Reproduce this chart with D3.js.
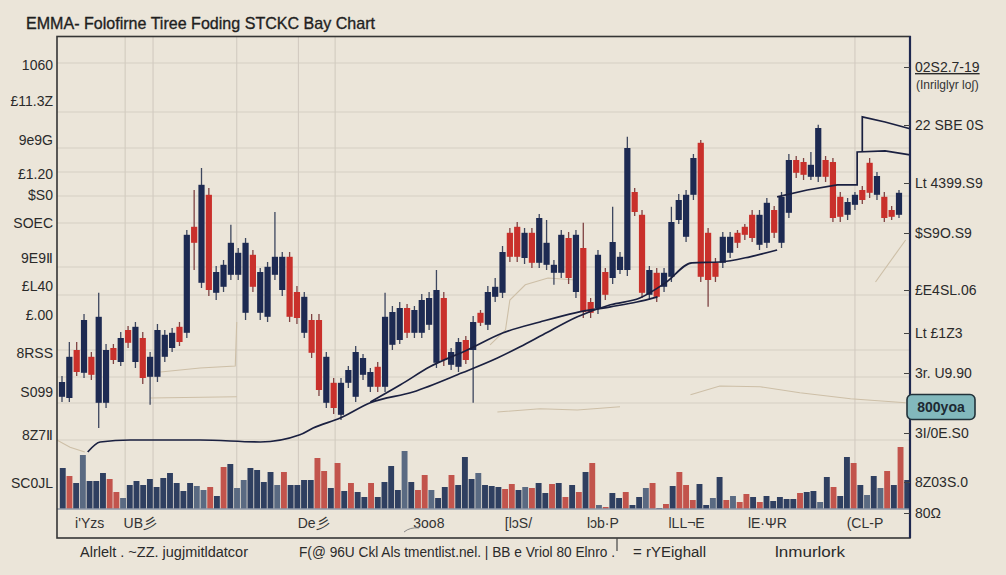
<!DOCTYPE html>
<html><head><meta charset="utf-8">
<script src="https://cdn.jsdelivr.net/npm/d3@7"></script>
<style>
html,body{margin:0;padding:0;background:#ece6db;}
svg{display:block;font-family:"Liberation Sans",Arial,sans-serif;}
</style></head><body>
<svg id="chart" width="1006" height="575"></svg>
<script>
// ---------- DATA ----------
const opens  = [10.8,10.5,22.5,16.8,20.8,9.3,9.3,23,19.5,27.5,19.5,25.5,15.8,15.8,20.8,23,28.3,26.8,53.3,39.3,61.3,36.8,38.3,41.3,41.3,31.8,46.3,31.8,30.8,41.3,37.5,45.8,37,26.8,30,30,9.3,14.3,6.3,14.3,10.8,16.3,13.3,18.3,13.3,23.8,25,33,26.8,26.8,28.8,19.3,35.5,18.8,18.3,25,22.5,31.8,28.8,35.8,36.8,51.8,53.3,45.5,51.8,44.3,43.8,41.8,41.8,50.5,37,48,34.5,33,42,40.5,42.5,42.5,62,56.3,36.3,41.8,38.3,40.8,55,50.8,61.3,74.3,51.8,44.3,44.3,46.8,51.8,53.3,56.3,48.8,49.3,57.5,49.3,56.8,70,69.5,65.8,65.8,70,69.5,60.8,56.3,58.8,62.5,69.3,61.3,60.8,57.5,56.3];
const highs  = [16,24.5,24.5,31.5,22,36.8,24,24,27,28.5,29.5,27,22,29,27.5,28,29.5,52.5,62.5,68,63,43.5,45,53.8,48,50.5,47.5,43,44.5,57,47,47,38.5,37,31.5,31.5,22,15.5,15.5,18.5,23.5,21.5,18,19.5,36.8,33.5,34.5,34,33.5,36.5,37,42.5,37,23,25.5,26,31,32.5,38.5,40.5,48.5,53,54.5,53,53,56.5,55,45,52.5,52,52.5,54.3,35.5,47.5,43,58.3,47,75.8,63,57.5,43.5,43,43,58.3,61.5,62.5,71.5,75,53,45.5,52,52,52.5,54,57.5,57.5,60.5,58.5,62,71.5,71,70.5,72,78.8,71,70.5,62,60.5,62,63.5,70.5,67,62,58.5,62.5];
const lows   = [9.5,9.5,16,15.5,15,3,8,19,18.5,23,18,14,8.8,14.5,19.5,22,23.5,25.5,42.5,38,36,35,37,40,40,30,37,30,29.5,40,36,29.5,29,25.5,20.5,11,8,6.5,5,13,9.5,15,12,12,12,22.5,24,25.5,25.5,25.5,27.5,18,18.5,17.5,17,19,9.3,28.5,27.5,34.5,35.5,44.5,44.5,44,43,43,42.5,38.8,40.5,39,35.5,30.5,30.5,31.5,35,39,41.5,41,56,35.5,35,34.5,37,39.5,54,49.5,60,39.5,33.3,39.5,43,45.5,48,50,49.5,47.5,48,50.5,48,55.5,65.5,65,65,64.5,64.5,54.5,54.5,55,57.5,59,60.5,60,54.5,55,55.5];
const closes = [14.5,20.8,17,30,16.3,30.8,22.5,20,25.5,24.3,28.3,15.5,20.8,27.5,26.3,26.8,24.5,51.3,49.3,63.8,37.5,42,43.8,49.3,46.8,49.3,38.3,42,43.3,45.8,45.8,30.8,30.5,35.8,21.8,12.5,20.8,8,14.3,17.5,22,20.5,17,13.3,30.8,32,33,26.8,32.5,35,35.5,37.5,20,22,24.5,20,29.5,29.3,37,38.3,47,45.8,45.8,51.8,44.3,55.5,49.3,43.8,51.3,40.5,51.3,32,31.8,46.3,36.3,49.5,45.8,73,57,36.8,42.5,35.8,41.8,54.5,60,61.3,70.5,40.8,40,40.8,50.8,50.8,49.3,51.3,50.5,56.3,59.3,51.8,60.8,70,66.8,66.3,68.8,78,65.8,55.5,55.8,59.5,61.3,60,61.8,66,55.5,55.8,61.8];

const volumes = [
  41,33,26,54,28,28,36,30,17,11,
  24,28,24,30,22,31,36,26,18,26,
  23,19,22,13,42,45,21,29,41,39,
  27,37,24,37,24,24,29,29,51,38,
  21,46,18,26,17,12,26,12,27,43,
  19,58,27,19,34,19,11,22,34,24,
  52,30,36,24,23,22,20,25,19,22,
  21,26,16,25,26,12,24,17,37,46,
  4,2,16,11,17,4,12,21,26,1,
  5,23,37,24,9,25,4,11,32,9,
  13,7,15,12,7,13,8,12,10,10,
  16,17,18,7,32,22,13,52,46,24,
  14,33,21,38,24,62,29];
const volumeSide = [
  "u","d","u","f","u","u","u","d","d","f",
  "u","u","u","u","u","u","u","u","u","u",
  "f","f","d","u","d","u","f","f","u","u",
  "u","u","f","d","u","u","u","u","d","d",
  "u","d","u","d","u","u","d","u","u","u",
  "u","f","u","d","d","f","u","u","d","u",
  "u","u","f","u","u","u","d","d","u","f",
  "d","u","u","d","u","d","u","d","u","d",
  "f","d","u","u","d","u","u","f","d","u",
  "d","u","d","d","d","u","u","f","u","d",
  "f","d","d","u","d","u","u","u","u","u",
  "d","u","u","f","u","d","u","u","d","u",
  "f","u","f","d","u","d","u"];

// moving-average style lines: [session index, price]
const ma1 = [[3.5,-3],[5.2,-0.5],[9.3,0],[18.8,0],[27,-0.5],[32.4,1.3],[34.2,3],[37.9,5.5],[42,9.3],[47.8,12],[54.5,16.8],[59.3,20.5],[62.4,23.3],[65.5,26.3],[70.2,30.8],[74.7,33.8],[78.7,35.5],[82.2,39.3],[85.8,44.3],[89.6,44.5],[93.7,45.8],[97.4,47.5]];
const ma2 = [[42,9.5],[46.1,13.8],[50.1,18.3],[55.2,22.5],[60.1,26.8],[65.1,29.5],[69.9,31.8],[74.7,33.3],[78.3,34.5],[81.1,35.8]];
const ma3 = [[97.4,60.8],[101.5,62.5],[105.6,63.8],[108.3,63.8],[108.3,72],[112.1,72.3],[115.5,71.3]];
const ma4 = [[109,72],[109,80.8],[112.1,79.5],[115.5,77.8]];
const faint = [
  [[13.4,17],[18.8,18],[23.6,18.5],[23.8,29.5]],
  [[12,10.5],[23.8,10.8]],
  [[58.3,23.8],[60.4,27.5],[61,35],[63.1,38.8],[66.2,40.5],[69.9,40]],
  [[85.6,11.3],[89.6,13.5],[95.1,13.3],[100.5,11.8],[107.4,10.3],[114.9,9.3]],
  [[59.3,7],[65.1,7.8],[70.2,7.5],[76,8.3]],
  [[110.8,39.5],[114.9,50]],
  [[-0.7,0],[1.1,-1.8],[3.1,-3]]
];

const hGrid = [94.25,82,73,67,61,54.25,43.25,36.25,22.5,15.75,9.25,0];
const vGrid = [8.6,12.4,23.8,32.2,37.2,108];

const leftTickVals = [93.75,84.75,75,66.5,61.25,54.25,45.5,38.5,31.25,21.75,12,1.25,-10.75];
const leftTickLabels = ["1060","£11.3Z","9e9G","£1.20","$S0","SOEC","9E9Ⅱ","£L40","£.00","8RSS","S099","8Z7Ⅱ","SC0JL"];
const rightTickVals = [93.25,78.75,64.25,51.75,37.5,26.75,16.75,1.75,-10.5,-18.25];
const rightTickLabels = ["02S2.7-19","22 SBE 0S","Lt 4399.S9","$S9O.S9","£E4SL.06","Lt £1Z3","3r. U9.90","3I/0E.S0","8Z03S.0","80Ω"];
const rightSubLabel = "(Inrilglyr lo∫)";
const rightSubVal = 88.75;
const badgeLabel = "800yoa";
const badgeVal = 8.25;
const xTickVals = [3.7,10.6,34.2,49.9,62.1,73.6,85,96,109.3];
const xTickLabels = ["i'Yzs","UB彡","De彡","3oo8","[lɔS/","lɔb·P","lLL¬E","lE·ΨR","(CL-P"];
const titleText = "EMMA- Folofirne Tiree Foding STCKC Bay Chart";
const footerTexts = ["Alrlelt .  ~ZZ. jugjmitldatcor","F(@ 96U Ckl Als tmentlist.nel. | BB e Vriol 80 Elnro .","= rYEighall","lnmurlork"];

// ---------- SCALES ----------
const x = d3.scaleLinear().domain([0, opens.length-1]).range([62, 899]);
const y = d3.scaleLinear().domain([0, 100]).range([440, 40]);
const vx = d3.scaleBand().domain(d3.range(volumes.length)).range([59, 911]).padding(0.12);
const vy = d3.scaleLinear().domain([0, 70]).range([509, 439]);

const svg = d3.select("#chart");
svg.append("rect").attr("width",1006).attr("height",575).attr("fill","#ebe5d9");

// title
svg.append("text").attr("x",26).attr("y",29).text(titleText)
  .attr("font-size",17).attr("fill","#1f1f1f").attr("stroke","#1f1f1f").attr("stroke-width",0.35)
  .attr("textLength",349).attr("lengthAdjust","spacingAndGlyphs");

const g = svg.append("g");

// grid
g.selectAll(".hg").data(hGrid).join("line")
  .attr("x1",57).attr("x2",910).attr("y1",d=>y(d)).attr("y2",d=>y(d))
  .attr("stroke","#d6cfc4").attr("stroke-width",1.2);
g.selectAll(".vg").data(vGrid).join("line")
  .attr("x1",d=>x(d)).attr("x2",d=>x(d)).attr("y1",37).attr("y2",509)
  .attr("stroke","#d2cbc0").attr("stroke-width",1.1);

// faint lines
const lineGen = d3.line().x(d=>x(d[0])).y(d=>y(d[1]));
g.selectAll(".faint").data(faint).join("path")
  .attr("d",lineGen).attr("fill","none").attr("stroke","#cdbfa7").attr("stroke-width",1.1);

// volume
const volColor = {u:"#2f3f60", d:"#c2544c", f:"#5a6a82"};
g.selectAll(".vol").data(volumes).join("rect")
  .attr("x",(d,i)=>vx(i)).attr("width",vx.bandwidth())
  .attr("y",d=>vy(d)).attr("height",d=>vy(0)-vy(d))
  .attr("fill",(d,i)=>volColor[volumeSide[i]]);
g.append("line").attr("x1",57).attr("x2",910).attr("y1",vy(0)).attr("y2",vy(0))
  .attr("stroke","#8f97a6").attr("stroke-width",1.5);

// candles
const idx = d3.range(opens.length);
const bw = 6.2;
g.selectAll(".wick").data(idx).join("line")
  .attr("x1",i=>x(i)).attr("x2",i=>x(i))
  .attr("y1",i=>y(highs[i])).attr("y2",i=>y(lows[i]))
  .attr("stroke",i=>closes[i]>=opens[i]?"#3d465e":"#7e4242").attr("stroke-width",1.3);
g.selectAll(".body").data(idx).join("rect")
  .attr("x",i=>x(i)-bw/2).attr("width",bw)
  .attr("y",i=>y(Math.max(opens[i],closes[i])))
  .attr("height",i=>Math.max(1.5,Math.abs(y(opens[i])-y(closes[i]))))
  .attr("fill",i=>closes[i]>=opens[i]?"#1d2a52":"#c9302b");

// MA lines
const smooth = d3.line().x(d=>x(d[0])).y(d=>y(d[1])).curve(d3.curveMonotoneX);
g.append("path").attr("d",smooth(ma1)).attr("fill","none").attr("stroke","#1a2040").attr("stroke-width",1.7);
g.append("path").attr("d",smooth(ma2)).attr("fill","none").attr("stroke","#1a2040").attr("stroke-width",1.7);
g.append("path").attr("d",lineGen(ma3)).attr("fill","none").attr("stroke","#1a2040").attr("stroke-width",1.7);
g.append("path").attr("d",lineGen(ma4)).attr("fill","none").attr("stroke","#1a2040").attr("stroke-width",1.7);

// frame
svg.append("rect").attr("x",57).attr("y",36.5).attr("width",853).attr("height",501.5)
  .attr("fill","none").attr("stroke","#353535").attr("stroke-width",1.6);
svg.append("line").attr("x1",910).attr("x2",910).attr("y1",36).attr("y2",538)
  .attr("stroke","#1e2850").attr("stroke-width",2.2);

// left axis
const leftAxis = d3.axisLeft(y).tickValues(leftTickVals).tickFormat((d,i)=>leftTickLabels[i]).tickSize(0).tickPadding(4);
const la = svg.append("g").attr("transform","translate(57,0)").call(leftAxis);
la.select(".domain").remove();
la.selectAll("text").attr("font-size",14).attr("fill","#2a2a2a").attr("font-family","Liberation Sans, Arial, sans-serif");

// right axis
const rightAxis = d3.axisRight(y).tickValues(rightTickVals).tickFormat((d,i)=>rightTickLabels[i]).tickSize(-6).tickPadding(5);
const ra = svg.append("g").attr("transform","translate(910,0)").call(rightAxis);
ra.select(".domain").remove();
ra.selectAll("line").attr("stroke","#444");
ra.selectAll("text").attr("font-size",14).attr("fill","#2a2a2a").attr("font-family","Liberation Sans, Arial, sans-serif");
ra.selectAll("text").filter((d,i)=>i===0).attr("text-decoration","underline");
svg.append("text").attr("x",916).attr("y",y(rightSubVal)).attr("dy","0.35em")
  .text(rightSubLabel).attr("font-size",12).attr("fill","#333");

// badge
const bg = svg.append("g");
bg.append("rect").attr("x",907).attr("y",y(badgeVal)-12.5).attr("width",68).attr("height",25).attr("rx",5)
  .attr("fill","#82b8bc").attr("stroke","#22323a").attr("stroke-width",1.6);
bg.append("text").attr("x",941).attr("y",y(badgeVal)).attr("dy","0.36em").attr("text-anchor","middle")
  .text(badgeLabel).attr("font-size",14).attr("font-weight","bold").attr("fill","#1d2a33");

// x axis labels
const xAxis = d3.axisBottom(x).tickValues(xTickVals).tickFormat((d,i)=>xTickLabels[i]).tickSize(0).tickPadding(0);
const xa = svg.append("g").attr("transform","translate(0,518)").call(xAxis);
xa.select(".domain").remove();
xa.selectAll("text").attr("font-size",14).attr("fill","#333").attr("font-family","Liberation Sans, Arial, sans-serif");
svg.append("path").attr("d","M404,532 Q410,527 419,528").attr("fill","none").attr("stroke","#888").attr("stroke-width",1);
svg.append("line").attr("x1",617).attr("x2",617).attr("y1",538).attr("y2",551).attr("stroke","#444").attr("stroke-width",1.2);

// footer
const fx = [80,299,633,775], fw = [168,316,73,70];
svg.selectAll(".foot").data(footerTexts).join("text")
  .attr("x",(d,i)=>fx[i]).attr("y",557).text(d=>d)
  .attr("font-size",14).attr("fill","#2a2a2a")
  .attr("textLength",(d,i)=>fw[i]).attr("lengthAdjust","spacingAndGlyphs");
</script>
</body></html>
